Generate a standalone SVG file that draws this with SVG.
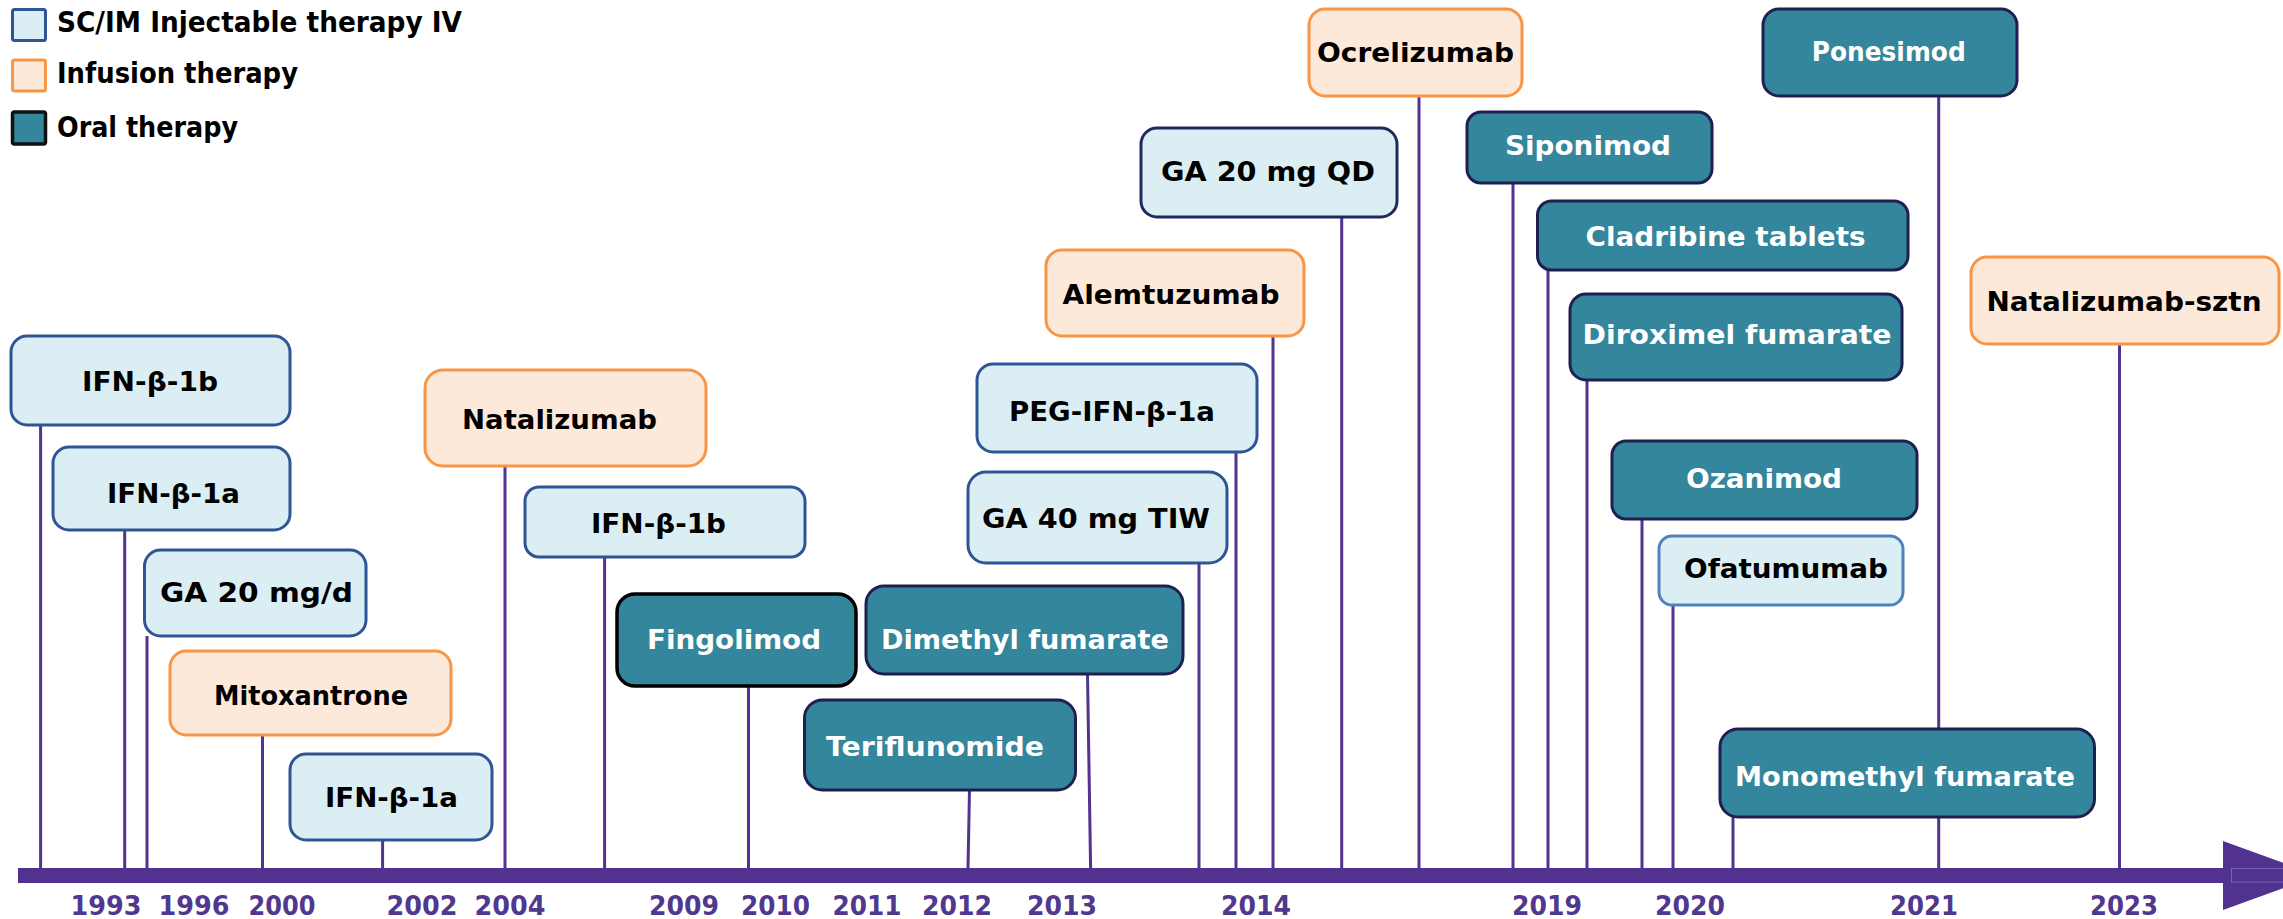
<svg xmlns="http://www.w3.org/2000/svg" width="2283" height="919" viewBox="0 0 2283 919">
  <style>
    .inj { fill: #dbeef4; stroke: #2f5597; stroke-width: 3; }
    .inj-dark { fill: #dbeef4; stroke: #1f2a5c; stroke-width: 3; }
    .inj-light { fill: #dbeef4; stroke: #4f81bd; stroke-width: 3; }
    .inf { fill: #fde9d9; stroke: #f79646; stroke-width: 3; }
    .oral { fill: #33869b; stroke: #1e2050; stroke-width: 3; }
    .oral-black { fill: #33869b; stroke: #000000; stroke-width: 3.5; }
    .lbl { font-family: "DejaVu Sans", Verdana, sans-serif; font-weight: bold; font-size: 26px; fill: #000000; text-anchor: middle; }
    .lbl-w { font-family: "DejaVu Sans", Verdana, sans-serif; font-weight: bold; font-size: 26px; fill: #ffffff; text-anchor: middle; }
    .legend { font-family: "DejaVu Sans", Verdana, sans-serif; font-weight: bold; font-size: 28px; fill: #000000; }
    .year { font-family: "DejaVu Sans", Verdana, sans-serif; font-weight: bold; font-size: 26px; fill: #51388f; text-anchor: middle; }
    .stem { stroke: #52338f; stroke-width: 3; fill: none; }
  </style>

  <rect width="2283" height="919" fill="#ffffff"/>

  <!-- legend -->
  <g id="legend">
    <rect x="12.5" y="9.5" width="33" height="31" rx="2" class="inj"/>
    <text x="57" y="32" class="legend" textLength="405" lengthAdjust="spacingAndGlyphs">SC/IM Injectable therapy IV</text>
    <rect x="12.5" y="60" width="33" height="31" rx="2" class="inf"/>
    <text x="57" y="83" class="legend" textLength="241" lengthAdjust="spacingAndGlyphs">Infusion therapy</text>
    <rect x="12.5" y="112" width="33" height="32" rx="2" fill="#33869b" stroke="#111111" stroke-width="3.5"/>
    <text x="57" y="137" class="legend" textLength="181" lengthAdjust="spacingAndGlyphs">Oral therapy</text>
  </g>

  <!-- stems from each approval box down to the time axis -->
  <g id="connectors">
    <line class="stem" x1="40.6" y1="425" x2="40.6" y2="868"/>
    <line class="stem" x1="124.7" y1="530" x2="124.7" y2="868"/>
    <line class="stem" x1="147" y1="636" x2="147" y2="868"/>
    <line class="stem" x1="262.5" y1="735" x2="262.5" y2="868"/>
    <line class="stem" x1="382.6" y1="840" x2="382.6" y2="868"/>
    <line class="stem" x1="505" y1="466" x2="505" y2="868"/>
    <line class="stem" x1="604.6" y1="557" x2="604.6" y2="868"/>
    <line class="stem" x1="748.5" y1="686" x2="748.5" y2="868"/>
    <line class="stem" x1="1087.5" y1="674" x2="1090.6" y2="868"/>
    <line class="stem" x1="969.5" y1="790" x2="968" y2="868"/>
    <line class="stem" x1="1199" y1="563" x2="1199" y2="868"/>
    <line class="stem" x1="1236" y1="452" x2="1236" y2="868"/>
    <line class="stem" x1="1273" y1="336" x2="1273" y2="868"/>
    <line class="stem" x1="1341.7" y1="217" x2="1341.7" y2="868"/>
    <line class="stem" x1="1419" y1="96" x2="1419" y2="868"/>
    <line class="stem" x1="1513" y1="183" x2="1513" y2="868"/>
    <line class="stem" x1="1548" y1="270" x2="1548" y2="868"/>
    <line class="stem" x1="1587" y1="380" x2="1587" y2="868"/>
    <line class="stem" x1="1642" y1="519" x2="1642" y2="868"/>
    <line class="stem" x1="1673" y1="605" x2="1673" y2="868"/>
    <line class="stem" x1="1733" y1="817" x2="1733" y2="868"/>
    <line class="stem" x1="1938.7" y1="96" x2="1938.7" y2="868"/>
    <line class="stem" x1="2119.5" y1="344" x2="2119.5" y2="868"/>
  </g>

  <!-- time axis -->
  <g id="axis">
    <rect x="18" y="868" width="2215" height="15" fill="#51338f"/>
    <polygon points="2223,841 2318,875.5 2223,910" fill="#51338f"/>
    <rect x="2231.5" y="868.5" width="60" height="13.5" fill="none" stroke="#7767b3" stroke-width="1"/>
  </g>

  <!-- year labels -->
  <g id="years">
    <text class="year" x="106" y="915" textLength="71" lengthAdjust="spacingAndGlyphs">1993</text>
    <text class="year" x="194" y="915" textLength="71" lengthAdjust="spacingAndGlyphs">1996</text>
    <text class="year" x="282" y="915" textLength="67" lengthAdjust="spacingAndGlyphs">2000</text>
    <text class="year" x="422" y="915" textLength="71" lengthAdjust="spacingAndGlyphs">2002</text>
    <text class="year" x="510" y="915" textLength="71" lengthAdjust="spacingAndGlyphs">2004</text>
    <text class="year" x="684" y="915" textLength="70" lengthAdjust="spacingAndGlyphs">2009</text>
    <text class="year" x="775.5" y="915" textLength="69" lengthAdjust="spacingAndGlyphs">2010</text>
    <text class="year" x="867" y="915" textLength="69" lengthAdjust="spacingAndGlyphs">2011</text>
    <text class="year" x="957" y="915" textLength="70" lengthAdjust="spacingAndGlyphs">2012</text>
    <text class="year" x="1062" y="915" textLength="70" lengthAdjust="spacingAndGlyphs">2013</text>
    <text class="year" x="1256" y="915" textLength="70" lengthAdjust="spacingAndGlyphs">2014</text>
    <text class="year" x="1547" y="915" textLength="70" lengthAdjust="spacingAndGlyphs">2019</text>
    <text class="year" x="1690" y="915" textLength="70" lengthAdjust="spacingAndGlyphs">2020</text>
    <text class="year" x="1924" y="915" textLength="68" lengthAdjust="spacingAndGlyphs">2021</text>
    <text class="year" x="2124" y="915" textLength="68" lengthAdjust="spacingAndGlyphs">2023</text>
  </g>

  <!-- approval boxes -->
  <g id="ifn-b-1b-1993">
    <rect class="inj" x="11" y="336" width="279" height="89" rx="16"/>
    <text class="lbl" x="150" y="391" textLength="136" lengthAdjust="spacingAndGlyphs">IFN-β-1b</text>
  </g>
  <g id="ifn-b-1a-1996">
    <rect class="inj" x="53" y="447" width="237" height="83" rx="16"/>
    <text class="lbl" x="173.5" y="503" textLength="133" lengthAdjust="spacingAndGlyphs">IFN-β-1a</text>
  </g>
  <g id="ga-20-mg-d">
    <rect class="inj" x="144.5" y="550" width="221.5" height="86" rx="16"/>
    <text class="lbl" x="256.5" y="602" textLength="193" lengthAdjust="spacingAndGlyphs">GA 20 mg/d</text>
  </g>
  <g id="mitoxantrone">
    <rect class="inf" x="170" y="651" width="281" height="84" rx="16"/>
    <text class="lbl" x="311" y="705" textLength="194" lengthAdjust="spacingAndGlyphs">Mitoxantrone</text>
  </g>
  <g id="ifn-b-1a-2002">
    <rect class="inj" x="290" y="754" width="202" height="86" rx="16"/>
    <text class="lbl" x="391.5" y="807" textLength="133" lengthAdjust="spacingAndGlyphs">IFN-β-1a</text>
  </g>
  <g id="natalizumab">
    <rect class="inf" x="425" y="370" width="281" height="96" rx="18"/>
    <text class="lbl" x="559.5" y="429" textLength="195" lengthAdjust="spacingAndGlyphs">Natalizumab</text>
  </g>
  <g id="ifn-b-1b-2009">
    <rect class="inj" x="525" y="487" width="280" height="70" rx="14"/>
    <text class="lbl" x="658.5" y="533" textLength="135" lengthAdjust="spacingAndGlyphs">IFN-β-1b</text>
  </g>
  <g id="fingolimod">
    <rect class="oral-black" x="617" y="594" width="239" height="92" rx="18"/>
    <text class="lbl-w" x="734" y="649" textLength="174" lengthAdjust="spacingAndGlyphs">Fingolimod</text>
  </g>
  <g id="dimethyl-fumarate">
    <rect class="oral" x="866" y="586" width="317" height="88" rx="18"/>
    <text class="lbl-w" x="1025" y="649" textLength="288" lengthAdjust="spacingAndGlyphs">Dimethyl fumarate</text>
  </g>
  <g id="teriflunomide">
    <rect class="oral" x="804.5" y="700" width="271" height="90" rx="18"/>
    <text class="lbl-w" x="935" y="756" textLength="218" lengthAdjust="spacingAndGlyphs">Teriflunomide</text>
  </g>
  <g id="ga-40-mg-tiw">
    <rect class="inj" x="968" y="472" width="259" height="91" rx="18"/>
    <text class="lbl" x="1096" y="528" textLength="228" lengthAdjust="spacingAndGlyphs">GA 40 mg TIW</text>
  </g>
  <g id="peg-ifn-b-1a">
    <rect class="inj" x="977" y="364" width="280" height="88" rx="16"/>
    <text class="lbl" x="1112" y="421" textLength="206" lengthAdjust="spacingAndGlyphs">PEG-IFN-β-1a</text>
  </g>
  <g id="alemtuzumab">
    <rect class="inf" x="1046" y="250" width="258" height="86" rx="16"/>
    <text class="lbl" x="1171" y="304" textLength="217" lengthAdjust="spacingAndGlyphs">Alemtuzumab</text>
  </g>
  <g id="ga-20-mg-qd">
    <rect class="inj-dark" x="1141" y="128" width="256" height="89" rx="16"/>
    <text class="lbl" x="1268" y="181" textLength="214" lengthAdjust="spacingAndGlyphs">GA 20 mg QD</text>
  </g>
  <g id="ocrelizumab">
    <rect class="inf" x="1309" y="9" width="213" height="87" rx="16"/>
    <text class="lbl" x="1415.5" y="62" textLength="197" lengthAdjust="spacingAndGlyphs">Ocrelizumab</text>
  </g>
  <g id="siponimod">
    <rect class="oral" x="1467" y="112" width="245" height="71" rx="14"/>
    <text class="lbl-w" x="1588" y="155" textLength="166" lengthAdjust="spacingAndGlyphs">Siponimod</text>
  </g>
  <g id="cladribine-tablets">
    <rect class="oral" x="1537.5" y="201" width="370.5" height="69" rx="14"/>
    <text class="lbl-w" x="1725.6" y="246" textLength="280" lengthAdjust="spacingAndGlyphs">Cladribine tablets</text>
  </g>
  <g id="diroximel-fumarate">
    <rect class="oral" x="1570" y="294" width="332" height="86" rx="16"/>
    <text class="lbl-w" x="1737" y="344" textLength="309" lengthAdjust="spacingAndGlyphs">Diroximel fumarate</text>
  </g>
  <g id="ozanimod">
    <rect class="oral" x="1612" y="441" width="305" height="78" rx="14"/>
    <text class="lbl-w" x="1764" y="488" textLength="156" lengthAdjust="spacingAndGlyphs">Ozanimod</text>
  </g>
  <g id="ofatumumab">
    <rect class="inj-light" x="1659" y="536" width="244" height="69" rx="13"/>
    <text class="lbl" x="1786" y="577.5" textLength="204" lengthAdjust="spacingAndGlyphs">Ofatumumab</text>
  </g>
  <g id="monomethyl-fumarate">
    <rect class="oral" x="1720" y="729" width="374.5" height="88" rx="18"/>
    <text class="lbl-w" x="1905" y="786" textLength="340" lengthAdjust="spacingAndGlyphs">Monomethyl fumarate</text>
  </g>
  <g id="ponesimod">
    <rect class="oral" x="1763" y="9" width="254" height="87" rx="16"/>
    <text class="lbl-w" x="1888.7" y="61" textLength="154" lengthAdjust="spacingAndGlyphs">Ponesimod</text>
  </g>
  <g id="natalizumab-sztn">
    <rect class="inf" x="1971" y="257" width="308" height="87" rx="16"/>
    <text class="lbl" x="2124" y="311" textLength="275" lengthAdjust="spacingAndGlyphs">Natalizumab-sztn</text>
  </g>
</svg>
